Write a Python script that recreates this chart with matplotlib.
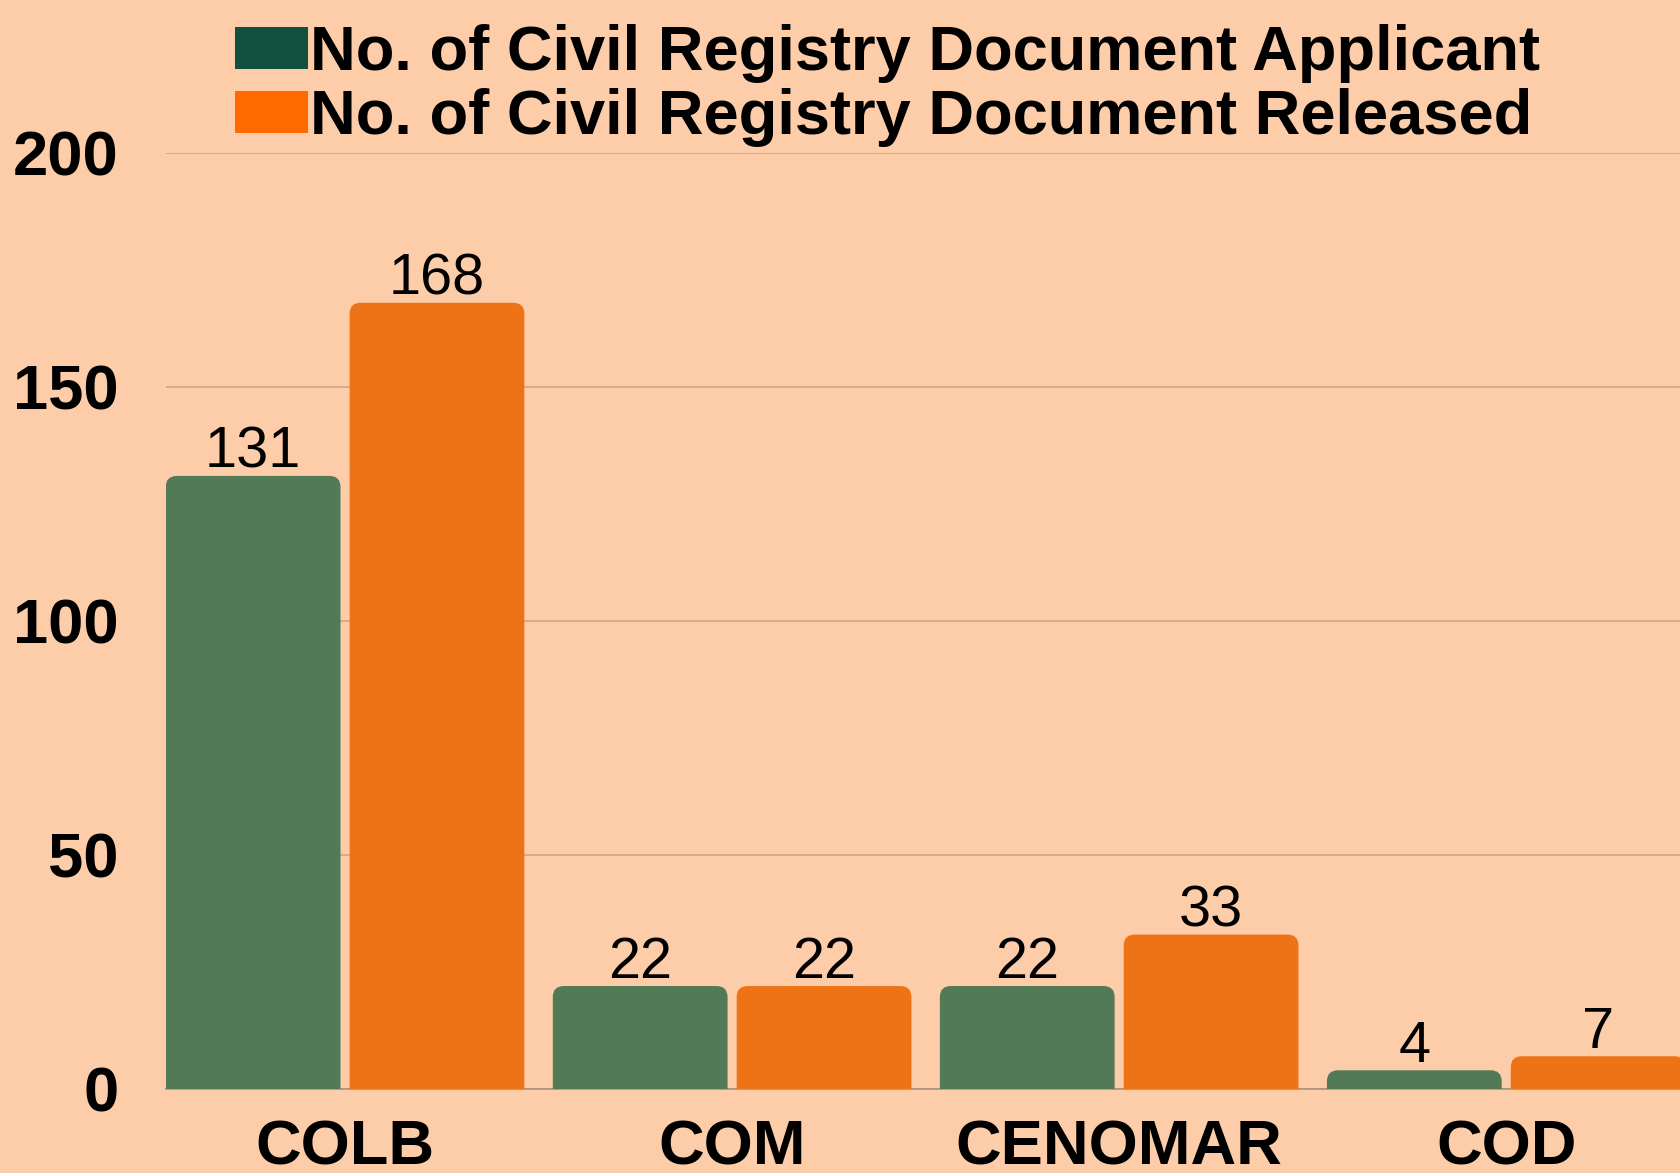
import matplotlib.pyplot as plt
import numpy as np
from matplotlib.patches import FancyBboxPatch, Patch
from matplotlib.colors import LinearSegmentedColormap

categories = ['COLB', 'COM', 'CENOMAR', 'COD']
applicant = [131, 22, 22, 4]
released = [168, 22, 33, 7]
yticks = [0, 50, 100, 150, 200]

bg = '#FDCDA9'
green = '#537A56'
orange = '#EE7316'

plt.rcParams['font.family'] = ['Liberation Sans', 'DejaVu Sans']

fig = plt.figure(figsize=(16.81, 11.73), dpi=100, facecolor=bg)
ax = fig.add_axes([166/1681, 1 - 1089/1173, 1 - 166/1681, (1089 - 153)/1173])
ax.set_facecolor(bg)

x = np.arange(len(categories))
w = 0.4515
off = 0.2375
ax.set_xlim(-0.4626, 3.4515)
ax.set_ylim(0, 200)

# data units per pixel, for rounded tops
xpp = (3.4515 + 0.4626) / 1515
ypp = 200 / 936
r = 11 * xpp
aspect = ypp / xpp

for vals, col, d in [(applicant, green, -off), (released, orange, off)]:
    bars = ax.bar(x + d, vals, width=w, color=col, alpha=0)
    for b, v in zip(bars, vals):
        p = FancyBboxPatch((b.get_x(), -12 * ypp), b.get_width(), v + 12 * ypp,
                           boxstyle=f'round,pad=0,rounding_size={r}',
                           mutation_aspect=aspect, fc=col, ec='none', zorder=2)
        ax.add_patch(p)
        ax.text(b.get_x() + b.get_width() / 2, v + 8 * ypp, str(v), ha='center',
                va='baseline', fontsize=41.5, color='black', zorder=3)

ax.set_yticks(yticks)
ax.set_yticklabels([str(t) for t in yticks], fontsize=45.5, fontweight='bold')
ax.set_xticks(x)
ax.set_xticklabels(categories, fontsize=45.5, fontweight='bold')
ax.tick_params(axis='y', length=0, pad=34)
ax.tick_params(axis='x', length=0, pad=21)
ax.grid(axis='y', color='#CFA687', linewidth=1.2)
ax.set_axisbelow(True)
for s in ['top', 'right', 'left']:
    ax.spines[s].set_visible(False)
ax.spines['bottom'].set_color('#A8927F')
ax.spines['bottom'].set_linewidth(1.2)
ax.spines['bottom'].set_zorder(1)

handles = [Patch(fc='#12513D', ec='none'), Patch(fc='#FF6A00', ec='none')]
leg = fig.legend(handles, ['No. of Civil Registry Document Applicant',
                           'No. of Civil Registry Document Released'],
                 loc='upper left', bbox_to_anchor=(235/1681, 1 - 24/1173),
                 frameon=False, prop={'size': 45.5, 'weight': 'bold'},
                 handlelength=1.155, handleheight=0.65, handletextpad=0.03,
                 labelspacing=0.08, borderpad=0, borderaxespad=0)

# radial gradient on the orange legend swatch
fig.canvas.draw()
bb = leg.legend_handles[1].get_window_extent().transformed(fig.transFigure.inverted())
gax = fig.add_axes([bb.x0, bb.y0, bb.width, bb.height])
gx, gy = np.meshgrid(np.linspace(-1, 1, 80), np.linspace(-1, 1, 45))
rad = np.clip(np.sqrt(gx**2 + gy**2), 0, 1)
cmap = LinearSegmentedColormap.from_list('g', ['#FF9200', '#FF6A00', '#FF5500'])
gax.imshow(rad, cmap=cmap, aspect='auto', vmin=0, vmax=1)
gax.axis('off')

fig.savefig('out.png', dpi=100, facecolor=bg)
